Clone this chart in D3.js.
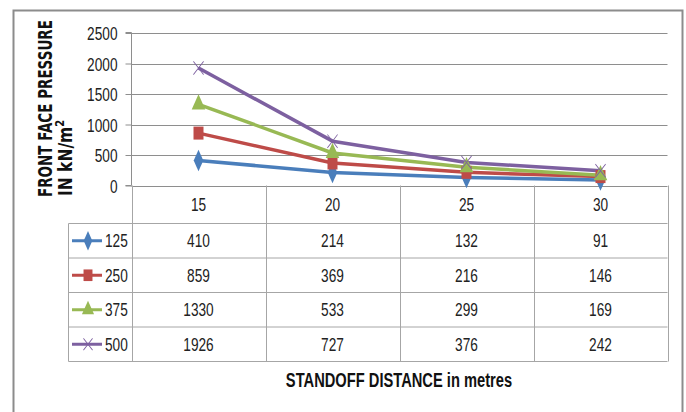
<!DOCTYPE html>
<html>
<head>
<meta charset="utf-8">
<script src="https://cdn.jsdelivr.net/npm/d3@7"></script>
<style>
  html, body { margin: 0; padding: 0; background: #fff; }
  svg { display: block; }
</style>
</head>
<body>
<svg id="chart" width="686" height="412"></svg>
<script>
// Standoff distances (m) and front-face pressure (kN/m²) per charge weight
const distances = ["15", "20", "25", "30"];
const seriesNames = ["125", "250", "375", "500"];
const s125 = [410, 214, 132, 91];
const s250 = [859, 369, 216, 146];
const s375 = [1330, 533, 299, 169];
const s500 = [1926, 727, 376, 242];
const yTicks = [0, 500, 1000, 1500, 2000, 2500];

const seriesValues = [s125, s250, s375, s500];
const colors = ["#4A7EBB", "#BE4B48", "#98B954", "#7D60A0"];
const symbols = [d3.symbolDiamond, d3.symbolSquare, d3.symbolTriangle, d3.symbolX];

const svg = d3.select("#chart");
const baseFont = "'Liberation Sans', Arial, sans-serif";

// text helper: condensed glyphs anchored at (tx, ty)
function label(g, tx, ty, str, anchor, opts) {
  const o = Object.assign({ size: 18, sx: 0.76, bold: false }, opts || {});
  return g.append("text")
    .attr("transform", `translate(${tx},${ty}) scale(${o.sx},1)`)
    .attr("text-anchor", anchor || "start")
    .attr("fill", "#222")
    .style("font-family", baseFont)
    .style("font-size", o.size + "px")
    .style("font-weight", o.bold ? "bold" : "normal")
    .text(str);
}

// frame
svg.append("rect").attr("x", 13.5).attr("y", 10.5).attr("width", 669).attr("height", 410)
  .attr("fill", "#fff").attr("stroke", "#8C8C8C").attr("stroke-width", 2);

const plot = { left: 131.5, right: 667.5, top: 33, bottom: 185.5 };
const tableLeft = 68.5;
const rowEdges = [185.5, 223.5, 258, 292.5, 327, 361.5];

const x = d3.scaleBand().domain(distances).range([plot.left, plot.right]);
const y = d3.scaleLinear().domain([0, 2500]).range([plot.bottom, plot.top]);

// gridlines
svg.append("g").selectAll("line").data(yTicks).join("line")
  .attr("x1", plot.left).attr("x2", plot.right)
  .attr("y1", d => Math.round(y(d)) + 0.5).attr("y2", d => Math.round(y(d)) + 0.5)
  .attr("stroke", "#8E8E8E").attr("stroke-width", 1);

// y axis
const yAxis = d3.axisLeft(y).tickValues(yTicks).tickSize(6).tickFormat(() => "");
const ya = svg.append("g").attr("transform", `translate(${plot.left},0)`).call(yAxis);
ya.select(".domain").attr("stroke", "#8E8E8E").attr("d", `M-6,${plot.bottom}H0V${plot.top - 0.5}H-6`);
ya.selectAll(".tick line").attr("stroke", "#8E8E8E");
ya.selectAll(".tick").each(function(d) {
  label(d3.select(this), -14, 6.5, d3.format("d")(d), "end");
});

// y title (two lines, rotated, tall glyphs)
const yTitle = svg.append("g").attr("font-family", "'DejaVu Sans', sans-serif").attr("font-weight", "bold")
  .attr("fill", "#111");
yTitle.append("text").attr("font-size", "13.5px")
  .attr("transform", "translate(52,197) rotate(-90) scale(1,1.5)").text("FRONT FACE PRESSURE");
const t2 = yTitle.append("text").attr("font-size", "15.5px")
  .attr("transform", "translate(71.5,196) rotate(-90) scale(1,1.2)");
t2.append("tspan").text("IN kN/m");
t2.append("tspan").attr("dy", -6).attr("font-size", "10px").text("2");

// data table grid
const grid = svg.append("g").attr("stroke", "#A6A6A6").attr("stroke-width", 1);
const colEdges = distances.map(d => x(d)).concat([plot.right]);
colEdges.forEach(cx => {
  grid.append("line").attr("x1", Math.round(cx) + 0.5).attr("x2", Math.round(cx) + 0.5)
    .attr("y1", rowEdges[0]).attr("y2", rowEdges[5]);
});
grid.append("line").attr("x1", tableLeft).attr("x2", tableLeft).attr("y1", rowEdges[1]).attr("y2", rowEdges[5]);
rowEdges.slice(1).forEach(ry => {
  grid.append("line").attr("x1", tableLeft).attr("x2", plot.right).attr("y1", ry).attr("y2", ry);
});

// category header row
const header = svg.append("g");
distances.forEach(d => {
  label(header, x(d) + x.bandwidth() / 2, (rowEdges[0] + rowEdges[1]) / 2 + 6.5, d, "middle");
});

function drawMarker(g, mx, my, i, k) {
  const sizes = [80, 100, 80, 70];
  const p = g.append("path")
    .attr("d", d3.symbol().type(symbols[i]).size(sizes[i] * (k || 1))())
    .attr("transform", `translate(${mx},${my}) scale(1,1.3)`);
  if (i === 3) {
    p.attr("fill", "none").attr("stroke", colors[i]).attr("stroke-width", 0.8);
  } else {
    p.attr("fill", colors[i]);
  }
}

// value rows with legend keys
seriesValues.forEach((vals, i) => {
  const cy = (rowEdges[i + 1] + rowEdges[i + 2]) / 2;
  const g = svg.append("g");
  vals.forEach((v, j) => label(g, x(distances[j]) + x.bandwidth() / 2, cy + 6.5, v, "middle"));
  g.append("line").attr("x1", 72).attr("x2", 102).attr("y1", cy).attr("y2", cy)
    .attr("stroke", colors[i]).attr("stroke-width", 3);
  drawMarker(g, 88, cy, i, 0.8);
  label(g, 105, cy + 6.5, seriesNames[i], "start");
});

// series lines
const line = d3.line().x((d, j) => x(distances[j]) + x.bandwidth() / 2).y(d => y(d));
seriesValues.forEach((vals, i) => {
  svg.append("path").datum(vals).attr("d", line).attr("fill", "none")
    .attr("stroke", colors[i]).attr("stroke-width", 3.5).attr("stroke-linejoin", "round");
});
seriesValues.forEach((vals, i) => {
  const g = svg.append("g");
  vals.forEach((v, j) => drawMarker(g, x(distances[j]) + x.bandwidth() / 2, y(v), i));
});

// x title
label(svg, 399, 387, "STANDOFF DISTANCE in metres", "middle", { size: 21, sx: 0.70, bold: true })
  .attr("fill", "#111");
</script>
</body>
</html>
